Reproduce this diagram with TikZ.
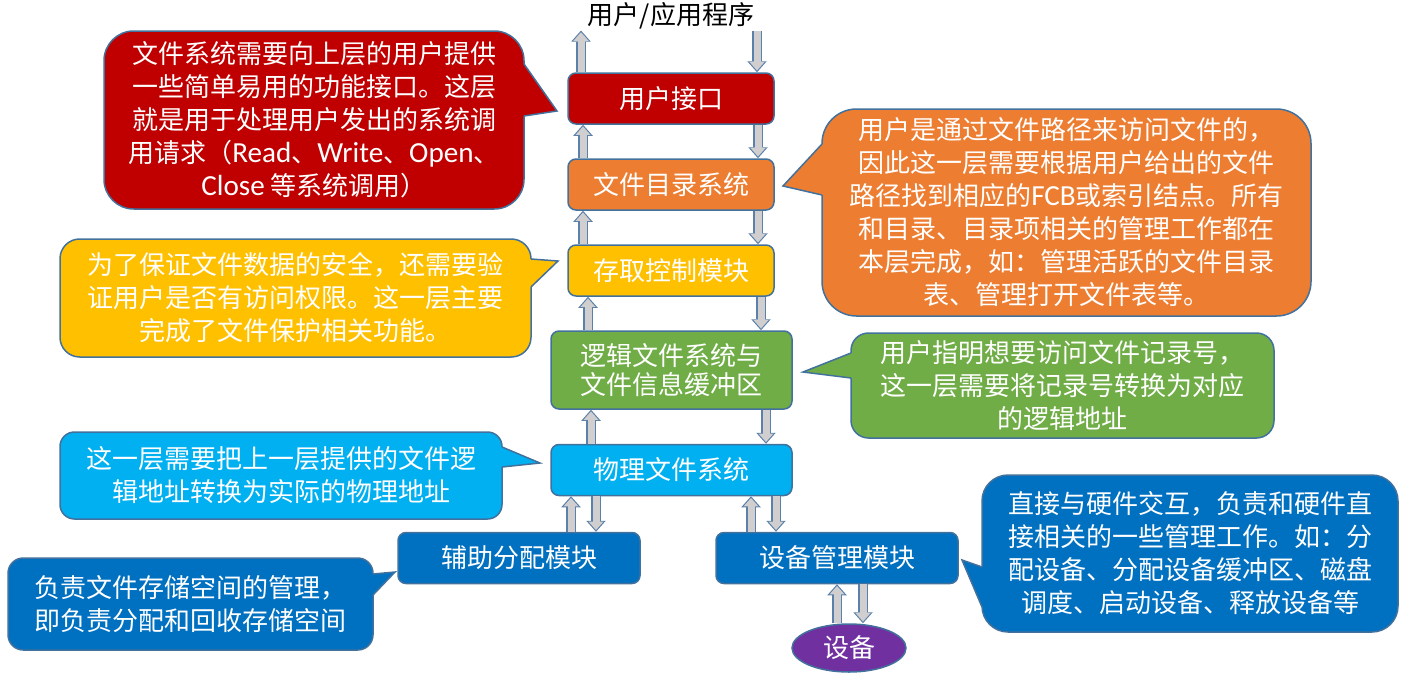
\documentclass[tikz,border=0pt]{standalone}
\usepackage{fontspec}
\setmainfont{Noto Sans CJK SC}
\newfontfamily\latin[Scale=1.12]{Carlito}
\usetikzlibrary{arrows.meta,shapes.geometric}

\definecolor{cred}{HTML}{C00000}
\definecolor{corange}{HTML}{ED7D31}
\definecolor{cgold}{HTML}{FFC000}
\definecolor{cgreen}{HTML}{70AD47}
\definecolor{ccyan}{HTML}{00B0F0}
\definecolor{cblue}{HTML}{0070C0}
\definecolor{cpurple}{HTML}{7030A0}
\definecolor{edge}{HTML}{41719C}
\definecolor{arrfill}{HTML}{D0CECE}
\definecolor{arredge}{HTML}{5B80AA}

\newcommand\calltext{\fontsize{26}{33}\selectfont}
\newcommand\twoline{\fontsize{26}{29}\selectfont}

\tikzset{
  layer/.style={draw=edge, line width=1.5pt, rounded corners=8pt, text=white,
    minimum width=206pt, minimum height=51pt, inner sep=0pt, align=center, font=\calltext},
  callbody/.style={draw=edge, line width=1.5pt, text=white, inner sep=0pt,
    align=center, font=\calltext},
  calledge/.style={draw=edge, line width=1.5pt, line join=miter},
  flow/.style={draw=arrfill, line width=7pt,
    -{Triangle[length=8.5pt,width=15pt,line width=0pt]}, shorten >=1.7pt,
    preaction={draw=arredge, line width=9.5pt,
      -{Triangle[length=11pt,width=19.5pt,line width=0pt]}, shorten >=0pt}}
}

\begin{document}
\begin{tikzpicture}[x=1pt, y=-1pt]
    \useasboundingbox (0,0) rectangle (1403,678);

    % layers of the file system
    \node[inner sep=1pt, font=\calltext] (app) at (671,16) {用户/应用程序};
    \node[layer, fill=cred] (ui) at (671,98.5) {用户接口};
    \node[layer, fill=corange] (dir) at (671,184.5) {文件目录系统};
    \node[layer, fill=cgold] (acc) at (671,270.5) {存取控制模块};
    \node[layer, fill=cgreen, minimum width=241pt, minimum height=78pt,
	font=\twoline] (log) at (671.5,370) {逻辑文件系统与\\文件信息缓冲区};
    \node[layer, fill=ccyan, minimum width=241pt] (phys) at (671.5,470) {物理文件系统};
    \node[layer, fill=cblue, minimum width=242pt] (aux) at (519,558) {辅助分配模块};
    \node[layer, fill=cblue, minimum width=242pt] (devm) at (837,558) {设备管理模块};
    \node[ellipse, draw=edge, line width=1.5pt, fill=cpurple, text=white,
	minimum width=114pt, minimum height=48pt, inner sep=0pt,
	font=\calltext] (dev) at (849,648) {设备};

    % calls going down and answers coming up
    \draw[flow] (581,0 |- ui.north) -- (581,0 |- app.south);
    \draw[flow] (757,0 |- app.south) -- (757,0 |- ui.north);
    \draw[flow] (583,0 |- dir.north) -- (583,0 |- ui.south);
    \draw[flow] (758,0 |- ui.south) -- (758,0 |- dir.north);
    \draw[flow] (583,0 |- acc.north) -- (583,0 |- dir.south);
    \draw[flow] (758,0 |- dir.south) -- (758,0 |- acc.north);
    \draw[flow] (588,0 |- log.north) -- (588,0 |- acc.south);
    \draw[flow] (761,0 |- acc.south) -- (761,0 |- log.north);
    \draw[flow] (591,0 |- phys.north) -- (591,0 |- log.south);
    \draw[flow] (766,0 |- log.south) -- (766,0 |- phys.north);
    \draw[flow] (571,0 |- aux.north) -- (571,0 |- phys.south);
    \draw[flow] (596,0 |- phys.south) -- (596,0 |- aux.north);
    \draw[flow] (751,0 |- devm.north) -- (751,0 |- phys.south);
    \draw[flow] (776,0 |- phys.south) -- (776,0 |- devm.north);
    \draw[flow] (837,0 |- dev.north) -- (837,0 |- devm.south);
    \draw[flow] (863,0 |- devm.south) -- (863,0 |- dev.north);

    % callouts
    \node[callbody, fill=cred, rounded corners=29.7pt, minimum width=420pt,
	minimum height=178pt] (ucall) at (314,120)
	{文件系统需要向上层的用户提供\\一些简单易用的功能接口。这层\\就是用于处理用户发出的系统调\\用请求（{\latin Read}、{\latin Write}、{\latin Open}、\\{\latin Close} 等系统调用）};
    \fill[cred] (520,64) -- (524,64) -- (557,111) -- (524,116) -- (520,116) -- cycle;
    \draw[calledge] (524,64) -- (557,111) -- (524,116);

    \node[callbody, fill=corange, rounded corners=34.5pt, minimum width=489pt,
	minimum height=207pt] (dcall) at (1066.5,212.5)
	{用户是通过文件路径来访问文件的，\\因此这一层需要根据用户给出的文件\\路径找到相应的{\latin FCB}或索引结点。所有\\和目录、目录项相关的管理工作都在\\本层完成，如：管理活跃的文件目录\\表、管理打开文件表等。};
    \fill[corange] (826,144) -- (822,144) -- (783,186) -- (822,195) -- (826,195) -- cycle;
    \draw[calledge] (822,144) -- (783,186) -- (822,195);

    \node[callbody, fill=cgold, rounded corners=19.7pt, minimum width=471pt,
	minimum height=118pt] (acall) at (295.5,298)
	{为了保证文件数据的安全，还需要验\\证用户是否有访问权限。这一层主要\\完成了文件保护相关功能。};
    \fill[cgold] (527,259) -- (531,259) -- (558,261) -- (531,287) -- (527,287) -- cycle;
    \draw[calledge] (531,259) -- (558,261) -- (531,287);

    \node[callbody, fill=cgreen, rounded corners=17.5pt, minimum width=423pt,
	minimum height=105pt] (lcall) at (1062.5,385.5)
	{用户指明想要访问文件记录号，\\这一层需要将记录号转换为对应\\的逻辑地址};
    \fill[cgreen] (855,353) -- (851,353) -- (803,372) -- (851,378) -- (855,378) -- cycle;
    \draw[calledge] (851,353) -- (803,372) -- (851,378);

    \node[callbody, fill=ccyan, rounded corners=14.5pt, minimum width=442pt,
	minimum height=87pt] (pcall) at (281,475.5)
	{这一层需要把上一层提供的文件逻\\辑地址转换为实际的物理地址};
    \fill[ccyan] (498,447) -- (502,447) -- (540,463) -- (502,467) -- (498,467) -- cycle;
    \draw[calledge] (502,447) -- (540,463) -- (502,467);

    \node[callbody, fill=cblue, rounded corners=15.3pt, minimum width=365pt,
	minimum height=92pt] (fcall) at (190.5,604)
	{负责文件存储空间的管理，\\即负责分配和回收存储空间};
    \fill[cblue] (369,574) -- (373,574) -- (395,572) -- (373,595) -- (369,595) -- cycle;
    \draw[calledge] (373,574) -- (395,572) -- (373,595);

    \node[callbody, fill=cblue, rounded corners=26pt, minimum width=416pt,
	minimum height=157pt] (mcall) at (1190,553.5)
	{直接与硬件交互，负责和硬件直\\接相关的一些管理工作。如：分\\配设备、分配设备缓冲区、磁盘\\调度、启动设备、释放设备等};
    \fill[cblue] (986,567) -- (982,567) -- (962,560) -- (982,607) -- (986,607) -- cycle;
    \draw[calledge] (982,567) -- (962,560) -- (982,607);
\end{tikzpicture}
\end{document}
